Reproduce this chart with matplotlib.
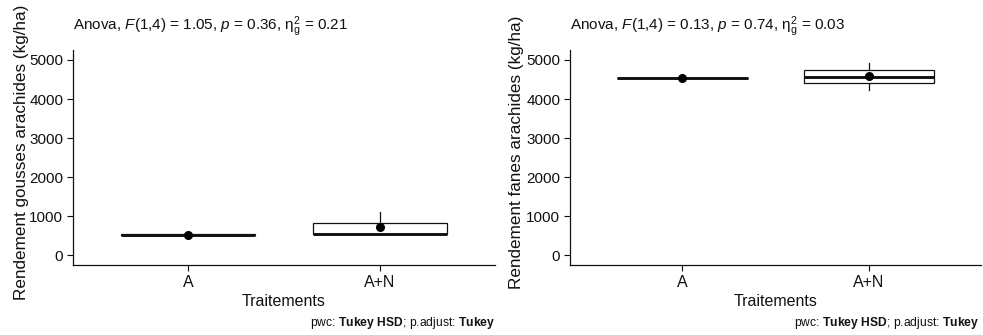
import matplotlib
matplotlib.use("Agg")
import matplotlib.pyplot as plt
import numpy as np

plt.rcParams['font.family'] = ['Liberation Sans', 'DejaVu Sans']
plt.rcParams['mathtext.fontset'] = 'custom'
plt.rcParams['mathtext.rm'] = 'Liberation Sans'
plt.rcParams['mathtext.it'] = 'Liberation Sans:italic'
plt.rcParams['mathtext.bf'] = 'Liberation Sans:bold'

categories = ["A", "A+N"]
# raw observations (kg/ha), read from box / whisker / mean positions
gousses_A = [505, 518, 565]
gousses_AN = [540, 545, 1105]
fanes_A = [4525, 4541, 4560]
fanes_AN = [4235, 4575, 4932]

ylabels = ["Rendement gousses arachides (kg/ha)", "Rendement fanes arachides (kg/ha)"]
anova_texts = [r"Anova, $\it{F}$(1,4) = 1.05, $\it{p}$ = 0.36, η$^{2}_{\mathrm{g}}$ = 0.21",
               r"Anova, $\it{F}$(1,4) = 0.13, $\it{p}$ = 0.74, η$^{2}_{\mathrm{g}}$ = 0.03"]
caption = r"pwc: $\mathbf{Tukey\ HSD}$; p.adjust: $\mathbf{Tukey}$"
yticks = [0, 1000, 2000, 3000, 4000, 5000]

panels = [[gousses_A, gousses_AN], [fanes_A, fanes_AN]]

fig = plt.figure(figsize=(9.83, 3.35), dpi=100)
axes_pos = [[0.0743, 0.209, 0.4293, 0.6411], [0.5799, 0.209, 0.4181, 0.6411]]
label_x = [-0.104, -0.112]

for i, (data, pos) in enumerate(zip(panels, axes_pos)):
    ax = fig.add_axes(pos)
    ax.boxplot(data, positions=[1, 2], widths=0.7, patch_artist=True,
               showfliers=False, showcaps=False,
               boxprops=dict(facecolor='white', edgecolor='#111111', linewidth=0.9),
               medianprops=dict(color='#111111', linewidth=2.1),
               whiskerprops=dict(color='#111111', linewidth=0.9))
    means = [np.mean(d) for d in data]
    ax.plot([1, 2], means, 'o', color='black', markersize=5.5, zorder=5)
    ax.set_xlim(0.4, 2.6)
    ax.set_ylim(-250, 5250)
    ax.set_xticks([1, 2])
    ax.set_xticklabels(categories, fontsize=11.5)
    ax.set_yticks(yticks)
    ax.tick_params(axis='y', labelsize=11, length=4, width=0.8, colors='#111111', pad=3)
    ax.tick_params(axis='x', length=4, width=0.8, colors='#111111', pad=3)
    for s in ['top', 'right']:
        ax.spines[s].set_visible(False)
    for s in ['left', 'bottom']:
        ax.spines[s].set_linewidth(0.9)
        ax.spines[s].set_color('#111111')
    ax.set_xlabel("Traitements", fontsize=11.5, labelpad=3, color='#111111')
    ax.set_ylabel(ylabels[i], fontsize=12.3, labelpad=0, color='#111111')
    ax.yaxis.set_label_coords(label_x[i], 0.526)
    ax.text(0.0, 1.11, anova_texts[i], transform=ax.transAxes, fontsize=11,
            ha='left', va='center', color='#111111')
    ax.text(1.0 if i == 0 else 0.995, -0.27, caption, transform=ax.transAxes, fontsize=8.7,
            ha='right', va='center', color='#111111')

fig.savefig("out.png", dpi=100)
